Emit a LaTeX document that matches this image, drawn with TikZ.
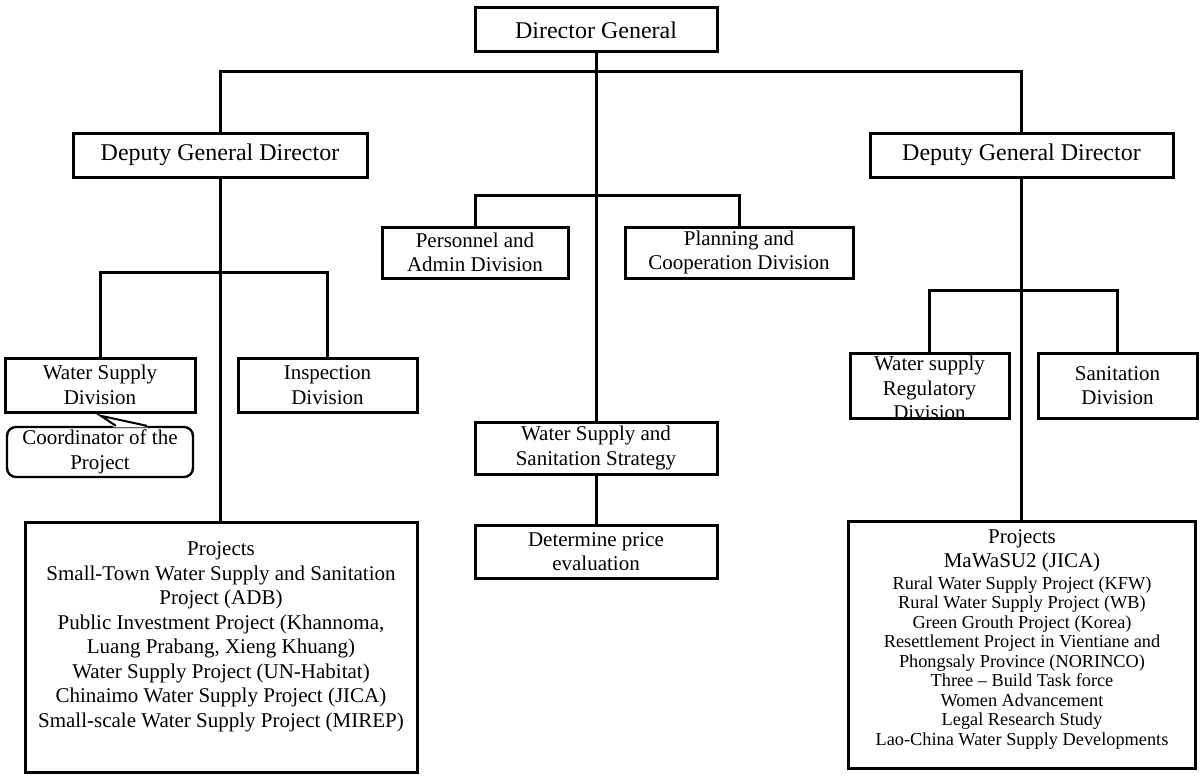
\documentclass[tikz,border=0pt]{standalone}
\usepackage{fontspec}
\setmainfont{Liberation Serif}
\usetikzlibrary{calc}
\begin{document}
\begin{tikzpicture}[x=1pt,y=-1pt,
  box/.style={draw, line width=3pt, fill=white, inner sep=0pt, align=center, font=\fontsize{21}{24.5}\selectfont},
  big/.style={font=\fontsize{24}{27}\selectfont},
  conn/.style={line width=3pt},
  txt/.style={inner sep=0pt, align=center, font=\fontsize{21}{24.5}\selectfont},
  small/.style={inner sep=0pt, align=center, font=\fontsize{18.3}{19.5}\selectfont}]
\useasboundingbox (0,0) rectangle (1203,776);
% boxes
\node[box,big,minimum width=242pt,minimum height=44pt] (dg) at (596,30) {Director General};
\node[box,big,minimum width=294pt,minimum height=44pt] (dl) at (220,155) {Deputy General Director};
\node[box,big,minimum width=303pt,minimum height=44pt] (dr) at (1021.5,155) {Deputy General Director};
\node[box,minimum width=186pt,minimum height=51pt] (pa) at (475,252.5) {Personnel and\\Admin Division};
\node[box,minimum width=228pt,minimum height=51pt] (pc) at (739,252.5) {Planning and\\Cooperation Division};
\node[box,minimum width=190pt,minimum height=54pt] (wsd) at (100,385) {Water Supply\\Division};
\node[box,minimum width=179pt,minimum height=54pt] (insp) at (327.5,385) {Inspection\\Division};
\node[box,minimum width=242pt,minimum height=52pt] (wss) at (596,448) {Water Supply and\\Sanitation Strategy};
\node[box,minimum width=242pt,minimum height=53pt] (dp) at (596,551.5) {Determine price\\evaluation};
\node[box,minimum width=159pt,minimum height=65pt] (wsr) at (929.5,385.5) {};
\node[box,minimum width=159pt,minimum height=65pt] (san) at (1117.5,385.5) {Sanitation\\Division};
\node[box,minimum width=392pt,minimum height=250pt] (lp) at (221,647) {};
\node[box,minimum width=347pt,minimum height=247pt] (rp) at (1021.5,644.5) {};
\node[box,rounded corners=9pt,line width=2.4pt,minimum width=186pt,minimum height=50pt] (call) at (100,452) {Coordinator of the\\Project};
% clipped text of the regulatory box
\begin{scope}
\clip ($(wsr.north west)+(1.5,1.5)$) rectangle ($(wsr.south east)+(-1.5,-1.5)$);
\node[txt] (wsrtext) at (929.5,388) {Water supply\\Regulatory\\Division};
\end{scope}
% project texts
\node[txt] (lpt) at (221,637) {Projects\\Small-Town Water Supply and Sanitation\\Project (ADB)\\Public Investment Project (Khannoma,\\Luang Prabang, Xieng Khuang)\\Water Supply Project (UN-Habitat)\\Chinaimo Water Supply Project (JICA)\\Small-scale Water Supply Project (MIREP)};
\node[txt] (rpt1) at (1022,551) {Projects\\MaWaSU2 (JICA)};
\node[small] (rpt2) at (1022,663) {Rural Water Supply Project (KFW)\\Rural Water Supply Project (WB)\\Green Grouth Project (Korea)\\Resettlement Project in Vientiane and\\Phongsaly Province (NORINCO)\\Three -- Build Task force\\Women Advancement\\Legal Research Study\\Lao-China Water Supply Developments};
% callout pointer
\fill[white] ($(call.north west)+(108.5,1.6)$) -- ($(call.north west)+(95,-10)$) -- ($(call.north west)+(142.5,1.6)$) -- cycle;
\draw[line width=2pt, line join=miter] ($(call.north west)+(110,0)$) -- ($(call.north west)+(95,-10)$) -- ($(call.north west)+(141,0)$);
% connectors
\coordinate (topbar) at (596,72);
\coordinate (midbar) at (596,195);
\coordinate (lbar) at (220,272);
\coordinate (rbar) at (1022,290);
\draw[conn] (dg.south) -- (wss.north);
\draw[conn] (dl.north) |- (topbar) -| (dr.north);
\draw[conn] (pa.north) |- (midbar) -| (pc.north);
\draw[conn] (dl.south) -- (dl.south |- lp.north);
\draw[conn] (wsd.north) |- (lbar) -| (insp.north);
\draw[conn] (dr.south) -- (dr.south |- rp.north);
\draw[conn] (wsr.north) |- (rbar) -| (san.north);
\draw[conn] (wss.south) -- (dp.north);
\end{tikzpicture}
\end{document}
